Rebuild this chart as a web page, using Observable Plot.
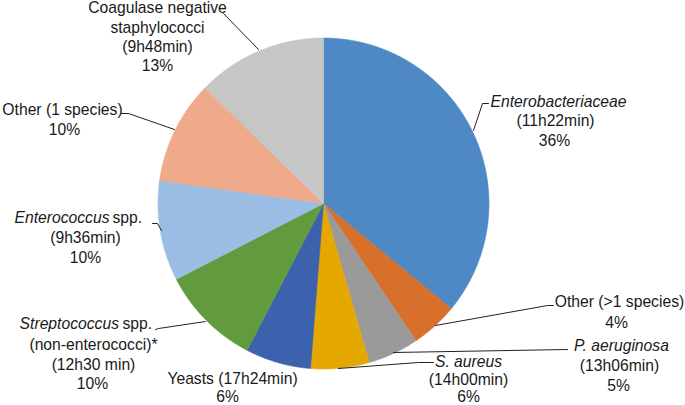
<!DOCTYPE html>
<html>
<head>
<meta charset="utf-8">
<script src="https://cdn.jsdelivr.net/npm/d3@7"></script>
<script src="https://cdn.jsdelivr.net/npm/@observablehq/plot@0.6"></script>
<style>
  html, body { margin: 0; padding: 0; background: #fff; }
  #chart svg { display: block; }
</style>
</head>
<body>
<div id="chart"></div>
<script>
// ---- data (clockwise from 12 o'clock) ----
const names = ["Enterobacteriaceae", "Other (>1 species)", "P. aeruginosa", "S. aureus", "Yeasts",
  "Streptococcus spp.", "Enterococcus spp.", "Other (1 species)", "Coagulase negative staphylococci"];
const shares = [36.0, 4.6, 5.0, 5.7, 6.4, 9.8, 9.8, 10.1, 12.7];
const pctLabels = ["36%", "4%", "5%", "6%", "6%", "10%", "10%", "10%", "13%"];
const times = ["(11h22min)", "", "(13h06min)", "(14h00min)", "(17h24min)", "(12h30 min)", "(9h36min)", "", "(9h48min)"];
const colors = ["#4F89C5", "#D8702C", "#9A9A9A", "#E5A800", "#3D62AD", "#629B3E", "#9BBDE3", "#EFA98B", "#C6C6C6"];

// ---- layout ----
const W = 685, H = 405;
const cx = 323, cy = 203, R = 165.5;

// slice polygons computed from shares
const total = d3.sum(shares);
const slicePts = [];
let cum = 0;
names.forEach((name, i) => {
  const a0 = cum / total * 2 * Math.PI;
  cum += shares[i];
  const a1 = cum / total * 2 * Math.PI;
  const n = Math.max(2, Math.ceil((a1 - a0) / (Math.PI / 720)));
  slicePts.push({name, x: cx, y: cy});
  for (let k = 0; k <= n; k++) {
    const a = a0 + (a1 - a0) * k / n;
    slicePts.push({name, x: cx + R * Math.sin(a), y: cy - R * Math.cos(a)});
  }
  slicePts.push({name, x: cx, y: cy});
});

// label text lines (position layout separate from the values)
const labelLines = [
  {x: 157, y: 7,   t: "Coagulase negative"},
  {x: 157, y: 27,  t: "staphylococci"},
  {x: 157, y: 46,  t: times[8]},
  {x: 157, y: 65,  t: pctLabels[8]},
  {x: 62,  y: 109, t: "Other (1 species)"},
  {x: 64,  y: 129, t: pctLabels[7]},
  {x: 109, y: 217, t: "Enterococcus", it: true, a: "end"},
  {x: 112, y: 217, t: "spp.", a: "start"},
  {x: 85,  y: 237, t: times[6]},
  {x: 85,  y: 257, t: pctLabels[6]},
  {x: 118.5, y: 323, t: "Streptococcus", it: true, a: "end"},
  {x: 122, y: 323, t: "spp.", a: "start"},
  {x: 93,  y: 344, t: "(non-enterococci)*"},
  {x: 93,  y: 364, t: times[5]},
  {x: 92,  y: 383, t: pctLabels[5]},
  {x: 232, y: 378, t: "Yeasts " + times[4]},
  {x: 227, y: 396.5, t: pctLabels[4]},
  {x: 468, y: 361, t: "S. aureus", it: true},
  {x: 468, y: 379, t: times[3]},
  {x: 468, y: 396.5, t: pctLabels[3]},
  {x: 621, y: 345, t: "P. aeruginosa", it: true},
  {x: 619, y: 365, t: times[2]},
  {x: 618, y: 385, t: pctLabels[2]},
  {x: 619, y: 301, t: "Other (>1 species)"},
  {x: 616, y: 322, t: pctLabels[1]},
  {x: 558, y: 101, t: "Enterobacteriaceae", it: true},
  {x: 555, y: 120, t: times[0]},
  {x: 554, y: 140, t: pctLabels[0]}
];

// leader lines
const leaders = [
  {id: 0, pts: [[223, 13], [258, 49]]},
  {id: 1, pts: [[121, 113], [128, 113], [174, 129]]},
  {id: 2, pts: [[152, 223], [157, 223], [161, 230]]},
  {id: 3, pts: [[488, 103], [482, 103], [473, 130]]},
  {id: 4, pts: [[553, 305], [547, 305], [435, 325]]},
  {id: 5, pts: [[567, 349], [393, 352]]},
  {id: 6, pts: [[433, 362], [418, 362], [338, 368]]},
  {id: 7, pts: [[155, 329], [158, 328], [205, 321]]}
].flatMap(l => l.pts.map(([x, y]) => ({id: l.id, x, y})));

const font = "'Liberation Sans', Arial, Helvetica, sans-serif";
const textOpts = (filter, anchor, italic) => ({
  x: "x", y: "y", text: "t",
  filter, textAnchor: anchor, fontStyle: italic ? "italic" : "normal",
  fill: "#1a1a1a", fontSize: 15.7, fontFamily: font
});

const chart = Plot.plot({
  width: W, height: H,
  margin: 0,
  style: {background: "#fff", fontFamily: font},
  x: {domain: [0, W], range: [0, W], axis: null},
  y: {domain: [0, H], range: [0, H], axis: null},
  color: {domain: names, range: colors},
  marks: [
    Plot.line(slicePts, {x: "x", y: "y", z: "name", fill: "name", stroke: "name", strokeWidth: 0.6, curve: "linear"}),
    Plot.line(leaders, {x: "x", y: "y", z: "id", stroke: "#222", strokeWidth: 1}),
    Plot.text(labelLines, textOpts(d => !d.it && !d.a, "middle", false)),
    Plot.text(labelLines, textOpts(d => d.it && !d.a, "middle", true)),
    Plot.text(labelLines, textOpts(d => d.it && d.a === "end", "end", true)),
    Plot.text(labelLines, textOpts(d => !d.it && d.a === "start", "start", false))
  ]
});
document.getElementById("chart").appendChild(chart);
</script>
</body>
</html>
